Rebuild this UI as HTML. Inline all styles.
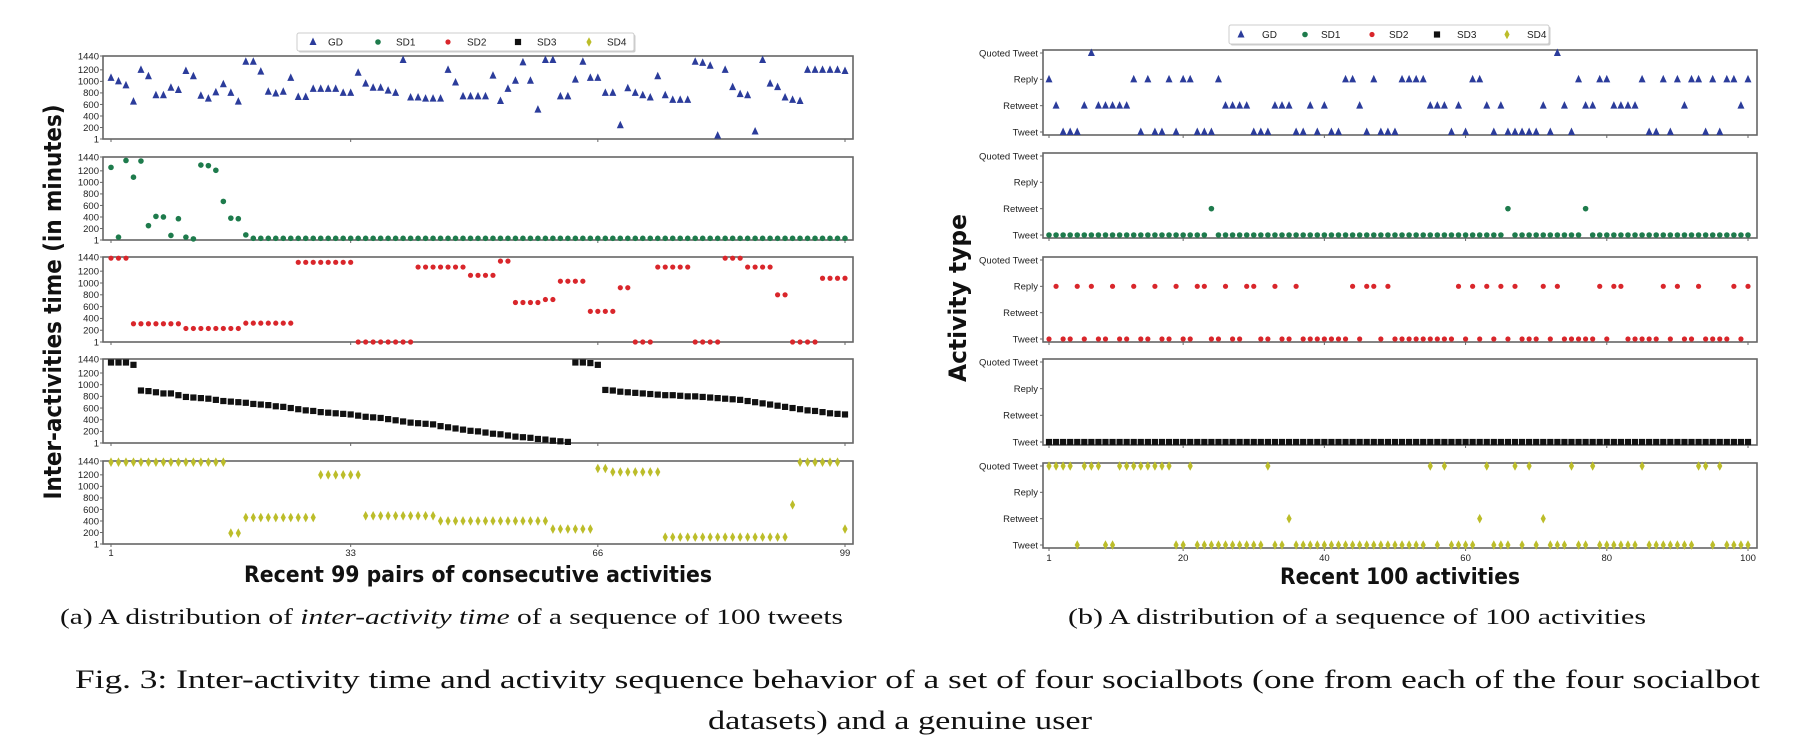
<!DOCTYPE html>
<html><head><meta charset="utf-8">
<style>
html,body{margin:0;padding:0;background:#fff;}
svg{display:block;}
.tk{font-family:"Liberation Sans",sans-serif;font-size:9.5px;fill:#222;}
.lg{font-family:"Liberation Sans",sans-serif;font-size:10px;fill:#222;}
.ttl{font-family:"DejaVu Sans","Liberation Sans",sans-serif;font-weight:bold;fill:#111;}
.cap{font-family:"Liberation Serif",serif;fill:#111;}
</style></head>
<body>
<svg id="fig" width="1816" height="750" viewBox="0 0 1816 750" xmlns="http://www.w3.org/2000/svg">
<g id="left"></g>
<g id="right"></g>

<text class="ttl" font-size="24" text-anchor="middle" transform="translate(61,302) rotate(-90)" textLength="395" lengthAdjust="spacingAndGlyphs">Inter-activities time (in minutes)</text>
<text class="ttl" font-size="22" x="478" y="582" text-anchor="middle" textLength="468" lengthAdjust="spacingAndGlyphs">Recent 99 pairs of consecutive activities</text>
<text class="ttl" font-size="24" text-anchor="middle" transform="translate(966,298) rotate(-90)" textLength="168" lengthAdjust="spacingAndGlyphs">Activity type</text>
<text class="ttl" font-size="22" x="1400" y="584" text-anchor="middle" textLength="240" lengthAdjust="spacingAndGlyphs">Recent 100 activities</text>

<text class="cap" font-size="22" x="60" y="624" textLength="783" lengthAdjust="spacingAndGlyphs">(a) A distribution of <tspan font-style="italic">inter-activity time</tspan> of a sequence of 100 tweets</text>
<text class="cap" font-size="22" x="1068" y="624" textLength="578" lengthAdjust="spacingAndGlyphs">(b) A distribution of a sequence of 100 activities</text>
<text class="cap" font-size="26" x="75" y="688" textLength="1685" lengthAdjust="spacingAndGlyphs">Fig. 3: Inter-activity time and activity sequence behavior of a set of four socialbots (one from each of the four socialbot</text>
<text class="cap" font-size="26" x="900" y="729" text-anchor="middle" textLength="384" lengthAdjust="spacingAndGlyphs">datasets) and a genuine user</text>
</svg>
<script>
// ---------- Left chart data (99 inter-activity times, minutes) ----------
const leftTicks = [1, 33, 66, 99];
const leftYTicks = [1, 200, 400, 600, 800, 1000, 1200, 1440];
const gdTimes = [1060,1000,930,650,1200,1090,760,760,890,850,
 1180,1090,750,700,810,950,800,650,1340,1340,
 1170,820,790,820,1060,730,730,870,870,870,
 870,800,800,1150,960,890,890,840,800,1370,
 720,720,700,700,700,1200,980,740,740,740,
 740,1100,660,870,1010,1330,1010,510,1370,1370,
 740,740,1030,1340,1060,1060,800,800,240,880,
 800,760,720,1090,760,680,680,680,1340,1320,
 1270,60,1200,900,780,760,130,1370,960,900,
 720,680,660,1200,1200,1200,1200,1200,1180];
const sd1Times = [1260,50,1380,1090,1370,250,410,400,80,370,50,20,1300,1290,1210,670,380,370,90,
 30,30,30,30,30,30,30,30,30,30,30,30,30,30,30,30,30,30,30,30,
 30,30,30,30,30,30,30,30,30,30,30,30,30,30,30,30,30,30,30,30,
 30,30,30,30,30,30,30,30,30,30,30,30,30,30,30,30,30,30,30,30,
 30,30,30,30,30,30,30,30,30,30,30,30,30,30,30,30,30,30,30,30];
const sd2Times = [1420,1420,1420,310,310,310,310,310,310,310,
 230,230,230,230,230,230,230,230,320,320,
 320,320,320,320,320,1350,1350,1350,1350,1350,
 1350,1350,1350,1,1,1,1,1,1,1,
 1,1270,1270,1270,1270,1270,1270,1270,1130,1130,
 1130,1130,1370,1370,670,670,670,670,720,720,
 1030,1030,1030,1030,520,520,520,520,920,920,
 1,1,1,1270,1270,1270,1270,1270,1,1,
 1,1,1420,1420,1420,1270,1270,1270,1270,800,
 800,1,1,1,1,1080,1080,1080,1080];
const sd3Times = [1380,1380,1380,1340,
 900,890,870,850,850,820,790,780,770,760,
 740,720,710,700,690,670,660,650,630,620,
 600,580,560,550,530,520,510,500,490,470,
 450,440,430,410,390,370,350,340,330,320,
 290,270,250,230,210,200,180,160,150,130,
 110,100,90,70,60,40,30,20,
 1380,1380,1370,1340,
 910,900,880,870,860,850,840,830,820,820,
 810,800,800,790,780,770,760,750,740,720,
 700,680,660,640,620,600,580,560,550,530,
 510,500,490];
const sd4Times = [1420,1420,1420,1420,1420,1420,1420,1420,1420,1420,1420,1420,1420,1420,1420,1420,
 190,190,
 460,460,460,460,460,460,460,460,460,460,
 1200,1200,1200,1200,1200,1200,
 490,490,490,490,490,490,490,490,490,490,
 400,400,400,400,400,400,400,400,400,400,400,400,400,400,400,
 260,260,260,260,260,260,
 1310,1310,
 1250,1250,1250,1250,1250,1250,1250,
 120,120,120,120,120,120,120,120,120,120,120,120,120,120,120,120,120,
 680,
 1420,1420,1420,1420,1420,1420,
 260];

// ---------- Right chart data (activity categories: 0 Tweet,1 Retweet,2 Reply,3 Quoted) ----------
const rightTicks = [1, 20, 40, 60, 80, 100];
const activityLabels = ["Tweet", "Retweet", "Reply", "Quoted Tweet"];
const gdActs = [2,1,0,0,0,1,3,1,1,1, 1,1,2,0,2,0,0,2,0,2, 2,0,0,0,2,1,1,1,1,0, 0,0,1,1,1,0,0,1,0,1,
 0,0,2,2,1,0,2,0,0,0, 2,2,2,2,1,1,1,0,1,0, 2,2,1,0,1,0,0,0,0,0, 1,0,3,1,0,2,1,1,2,2,
 1,1,1,1,2,0,0,2,0,2, 1,2,2,0,2,0,2,2,1,2];
const sd1Retweets = [24, 66, 77];
const sd2Replies = [2,5,7,10,13,16,19,22,23,26,29,30,33,36,44,46,47,49,59,61,63,65,67,71,73,79,81,82,88,90,93,98,100];
const sd4Quoted = [1,2,3,4,6,7,8,11,12,13,14,15,16,17,18,21,32,55,57,63,67,69,75,78,85,93,94,96];
const sd4Retweets = [35, 62, 71];

const COLORS = {GD:"#2b3c9b", SD1:"#1e7b4c", SD2:"#d9262b", SD3:"#111111", SD4:"#bcbd2a"};
const NS = "http://www.w3.org/2000/svg";
function el(tag, attrs, parent){ const e=document.createElementNS(NS,tag); for(const k in attrs) e.setAttribute(k,attrs[k]); parent.appendChild(e); return e; }

function marker(kind, x, y, parent){
  let e;
  if(kind==="GD"){ e = el("path",{d:`M${x},${y-4.5}L${x+3.5},${y+3}L${x-3.5},${y+3}Z`,fill:COLORS.GD},parent); }
  else if(kind==="SD1"){ e = el("circle",{cx:x,cy:y,r:2.8,fill:COLORS.SD1},parent); }
  else if(kind==="SD2"){ e = el("circle",{cx:x,cy:y,r:2.6,fill:COLORS.SD2},parent); }
  else if(kind==="SD3"){ e = el("rect",{x:x-3.1,y:y-3.1,width:6.2,height:6.2,fill:COLORS.SD3},parent); }
  else { e = el("path",{d:`M${x},${y-4.8}L${x+2.6},${y}L${x},${y+4.8}L${x-2.6},${y}Z`,fill:COLORS.SD4},parent); }
  return e;
}

// ---------- Left chart ----------
const L = {x0:103, x1:853, panels:[[56,139],[157,240],[257,342],[359,443],[461,544]]};
const lx = i => 111 + (i-1)*(845-111)/98;
const ly = (v,p) => p[1] - (v-1)/(1440-1)*(p[1]-p[0]);
const leftSeries = [["GD",gdTimes],["SD1",sd1Times],["SD2",sd2Times],["SD3",sd3Times],["SD4",sd4Times]];
const lg = document.getElementById("left");
leftSeries.forEach(([name,vals],pi)=>{
  const p = L.panels[pi];
  const g = el("g",{},lg);
  
  
  const fr = el("rect",{x:L.x0,y:p[0],width:L.x1-L.x0,height:p[1]-p[0],fill:"none",stroke:"#666","stroke-width":1.6},g);
  
  
  leftYTicks.forEach(t=>{
    const y = ly(t,p);
    el("line",{x1:L.x0-3,x2:L.x0,y1:y,y2:y,stroke:"#666"},g);
    const tx = el("text",{x:L.x0-4,y:y+3.3,"text-anchor":"end",class:"tk"},g);
    tx.textContent = t;
    
    
  });
  leftTicks.forEach(t=>{
    const x = lx(t);
    el("line",{x1:x,x2:x,y1:p[1],y2:p[1]+3,stroke:"#666"},g);
    if(pi===4){
      const tx = el("text",{x:x,y:p[1]+12,"text-anchor":"middle",class:"tk"},g);
      tx.textContent = t;
      
      
    }
  });
  vals.forEach((v,i)=>{
    const m = marker(name, lx(i+1), ly(v,p), g);
    
    
  });
});

// ---------- Right chart ----------
const R = {x0:1043, x1:1757, panels:[[50,135],[153,238],[257,342],[359,445],[463,548]]};
const rx = i => 1049 + (i-1)*(1748-1049)/99;
const ry = (v,p) => p[1] - 3 - v*(p[1]-p[0]-6)/3;
function fill100(def, setMap){ const a=[]; for(let i=1;i<=100;i++){ let v=def; for(const [arr,val] of setMap){ if(arr.includes(i)) v=val; } a.push(v);} return a; }
const sd1Acts = fill100(0, [[sd1Retweets,1]]);
const sd2Acts = fill100(0, [[sd2Replies,2]]);
const sd3Acts = fill100(0, []);
const sd4Acts = fill100(0, [[sd4Quoted,3],[sd4Retweets,1]]);
const rightSeries = [["GD",gdActs],["SD1",sd1Acts],["SD2",sd2Acts],["SD3",sd3Acts],["SD4",sd4Acts]];
const rg = document.getElementById("right");
rightSeries.forEach(([name,vals],pi)=>{
  const p = R.panels[pi];
  const g = el("g",{},rg);
  
  
  const fr = el("rect",{x:R.x0,y:p[0],width:R.x1-R.x0,height:p[1]-p[0],fill:"none",stroke:"#666","stroke-width":1.6},g);
  
  
  activityLabels.forEach((lab,v)=>{
    const y = ry(v,p);
    el("line",{x1:R.x0-3,x2:R.x0,y1:y,y2:y,stroke:"#666"},g);
    const tx = el("text",{x:R.x0-5,y:y+3.3,"text-anchor":"end",class:"tk"},g);
    tx.textContent = lab;
    
    
  });
  rightTicks.forEach(t=>{
    const x = rx(t);
    el("line",{x1:x,x2:x,y1:p[1],y2:p[1]+3,stroke:"#666"},g);
    if(pi===4){
      const tx = el("text",{x:x,y:p[1]+13,"text-anchor":"middle",class:"tk"},g);
      tx.textContent = t;
      
      
    }
  });
  vals.forEach((v,i)=>{
    const m = marker(name, rx(i+1), ry(v,p), g);
    
    
  });
});

// ---------- Legends ----------
const legendNames = ["GD","SD1","SD2","SD3","SD4"];
function legend(parent, box, mx, tx, cy){
  const g = el("g",{},parent);
  
  
  el("rect",{x:box[0]+1.5,y:box[1]+1.5,width:box[2],height:box[3],fill:"#ccc",rx:2},g);
  el("rect",{x:box[0],y:box[1],width:box[2],height:box[3],fill:"#fff",stroke:"#ccc",rx:2},g);
  legendNames.forEach((n,i)=>{
    const m = marker(n, mx[i], cy, g);
    
    
    const t = el("text",{x:tx[i],y:cy+3.5,class:"lg"},g);
    t.textContent = n;
    
    
  });
}
legend(lg, [297,33,337,18], [313,378,448,518,589], [328,396,467,537,607], 42);
legend(rg, [1229,25,320,19], [1241,1305,1372,1437,1507], [1262,1321,1389,1457,1527], 34.5);
</script>
</body></html>
